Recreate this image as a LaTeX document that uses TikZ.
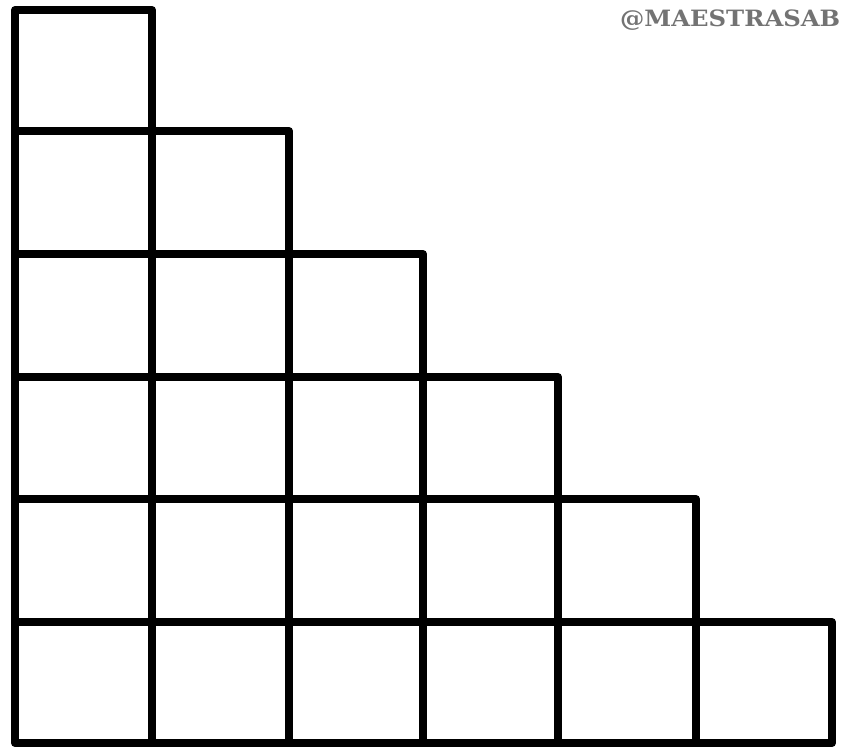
\documentclass[tikz,border=0pt]{standalone}
\usepackage{fontspec}
\newfontfamily\tagfont{DejaVu Serif}
\tikzset{
  cell/.style={draw=black, line width=0.4cm, line join=round},
  tag/.style={font=\tagfont\bfseries\fontsize{32}{32}\selectfont, text=black!55, inner sep=0pt, anchor=west, xscale=1.08}
}
\begin{document}
\begin{tikzpicture}[x=0.05cm, y=-0.05cm]
\useasboundingbox (0,0) rectangle (849,747);
\def\colx{{15,152,289,423,558,696,832}}
\def\rowy{{10,131,254,377,499,622,743}}
% staircase of squares, row r holds r squares
\foreach \r in {1,...,6}{
  \foreach \c in {1,...,\r}{
    \pgfmathsetmacro{\xa}{\colx[\c-1]}
    \pgfmathsetmacro{\xb}{\colx[\c]}
    \pgfmathsetmacro{\ya}{\rowy[\r-1]}
    \pgfmathsetmacro{\yb}{\rowy[\r]}
    \draw[cell] (\xa,\ya) rectangle (\xb,\yb);
  }
}
\node[tag] (handle) at (620,20) {@MAESTRASAB};
\end{tikzpicture}
\end{document}
